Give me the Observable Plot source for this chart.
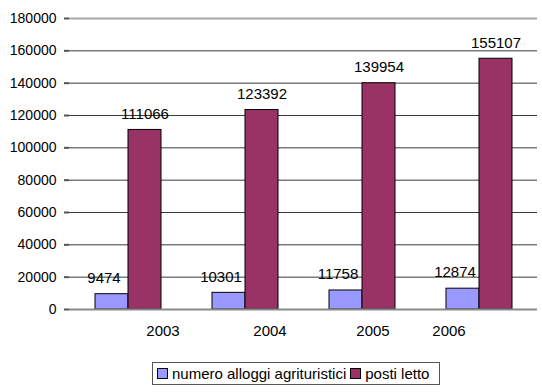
<!DOCTYPE html>
<html>
<head>
<meta charset="utf-8">
<script src="https://cdn.jsdelivr.net/npm/d3@7"></script>
<script src="https://cdn.jsdelivr.net/npm/@observablehq/plot@0.6"></script>
<style>
  html, body { margin: 0; padding: 0; background: #fff; }
  body { width: 542px; height: 392px; overflow: hidden; font-family: "Liberation Sans", Arial, sans-serif; }
  #legend {
    position: absolute; left: 152px; top: 362px; width: 288px; height: 23px;
    border: 1px solid #555; box-sizing: border-box; background: #fff;
    display: flex; align-items: center; font-size: 15px; color: #000; white-space: nowrap;
  }
  .item { display: flex; align-items: center; }
  .sw { width: 9px; height: 9px; border: 1px solid #000; margin: 0 4px 0 4px; }
</style>
</head>
<body>
<div id="chart"></div>
<div id="legend"></div>
<script>
const years = ["2003", "2004", "2005", "2006"];
const alloggi = [9474, 10301, 11758, 12874];
const posti = [111066, 123392, 139954, 155107];
const seriesNames = ["numero alloggi agrituristici", "posti letto"];
const seriesColors = ["#9999FF", "#993366"];
const yTicks = [0, 20000, 40000, 60000, 80000, 100000, 120000, 140000, 160000, 180000];
const yearLabelShift = [35, 25, 11, -30];

const data = years.flatMap((y, i) => [
  {year: y, series: seriesNames[0], value: alloggi[i]},
  {year: y, series: seriesNames[1], value: posti[i]}
]);

const chart = Plot.plot({
  width: 542,
  height: 355,
  marginTop: 18,
  marginBottom: 46,
  marginLeft: 67,
  marginRight: 4,
  style: {fontFamily: "'Liberation Sans', Arial, sans-serif", fontSize: "14px", color: "#000", background: "#fff"},
  fx: {domain: years, padding: 0, axis: null},
  x: {domain: seriesNames, paddingInner: 0, paddingOuter: 0.757, axis: null},
  y: {domain: [0, 180000], axis: null},
  color: {domain: seriesNames, range: seriesColors},
  marks: [
    Plot.ruleY(yTicks.filter(d => d > 0 && d < 180000), {stroke: "#3a3a3a", strokeWidth: 1}),
    Plot.ruleY([180000], {stroke: "#a8a8a8", strokeWidth: 2}),
    Plot.axisY({anchor: "right", ticks: [], tickSize: 0, line: true, stroke: "#a8a8a8", strokeWidth: 2, tickFormat: () => "", label: null}),
    Plot.barY(data, {fx: "year", x: "series", y: "value", fill: "series", stroke: "#000", strokeWidth: 1}),
    Plot.ruleY([0], {stroke: "#8a8a8a", strokeWidth: 2}),
    Plot.axisY({anchor: "left", ticks: yTicks, tickSize: 5, tickPadding: 8, line: true, stroke: "#555", strokeWidth: 2,
      tickFormat: d => String(d), fontSize: 14, label: null}),
    Plot.text(data.filter(d => d.series === seriesNames[0]), {fx: "year", x: "series", y: "value", text: d => String(d.value), dy: -16, dx: -8, fontSize: 15, fill: "#000"}),
    Plot.text(data.filter(d => d.series === seriesNames[1]), {fx: "year", x: "series", y: "value", text: d => String(d.value), dy: -16, fontSize: 15, fill: "#000"}),
    ...years.map((yr, i) => Plot.text([yr], {fx: d => d, frameAnchor: "bottom", dy: 26, dx: yearLabelShift[i], text: d => d, fontSize: 15, fill: "#000"}))
  ]
});
document.getElementById("chart").appendChild(chart);

const legend = document.getElementById("legend");
seriesNames.forEach((name, i) => {
  const item = document.createElement("div");
  item.className = "item";
  const sw = document.createElement("div");
  sw.className = "sw";
  sw.style.background = seriesColors[i];
  const label = document.createElement("span");
  label.textContent = name;
  item.appendChild(sw);
  item.appendChild(label);
  legend.appendChild(item);
});
</script>
</body>
</html>
